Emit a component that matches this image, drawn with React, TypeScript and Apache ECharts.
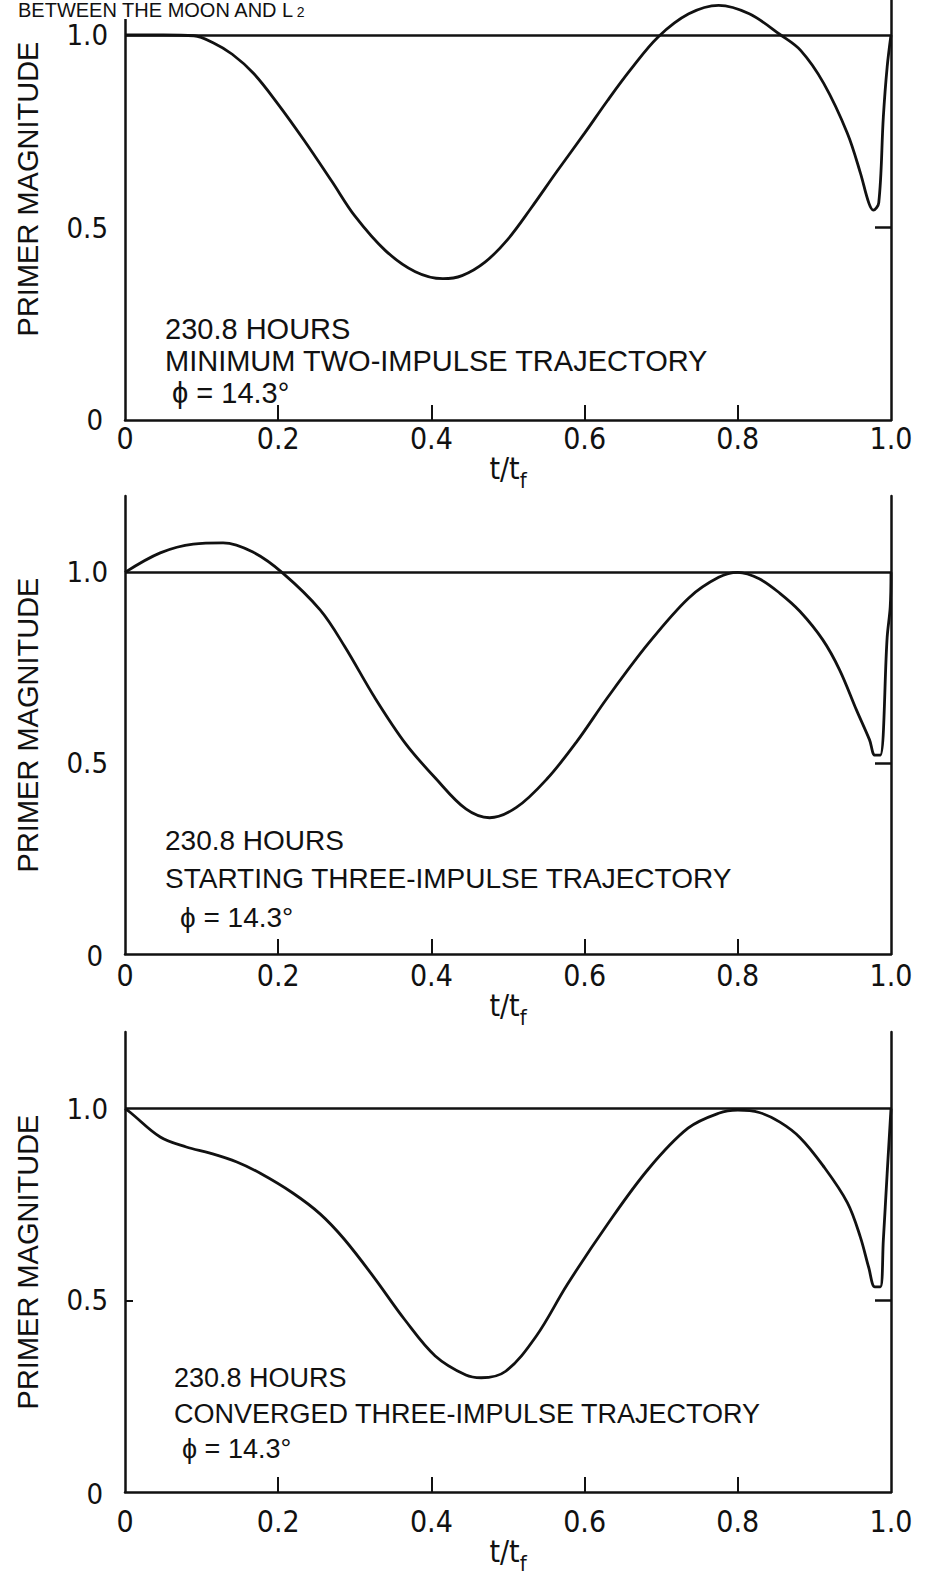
import React, { useEffect, useRef } from "react";
import * as echarts from "echarts";

// ---------- data ----------
const xTickValues = [0, 0.2, 0.4, 0.6, 0.8, 1.0];
const xInnerTicks = [0.2, 0.4, 0.6, 0.8];
const yLabelValues = [0, 0.5, 1.0];
const yInnerTicks = [0.5];
const referenceLevel = 1.0;

// Panel 1: minimum two-impulse trajectory
const p1T = [0, 0.05, 0.09, 0.115, 0.14, 0.168, 0.2, 0.234, 0.27, 0.3, 0.34, 0.379, 0.415, 0.44, 0.47, 0.5, 0.53, 0.564, 0.6, 0.63, 0.66, 0.696, 0.736, 0.775, 0.815, 0.856, 0.882, 0.912, 0.943, 0.96, 0.971, 0.977, 0.984, 0.99, 0.995, 1.0];
const p1V = [1.0, 1.0, 0.998, 0.98, 0.95, 0.9, 0.82, 0.726, 0.62, 0.53, 0.44, 0.385, 0.367, 0.375, 0.41, 0.47, 0.55, 0.646, 0.745, 0.83, 0.91, 0.995, 1.055, 1.077, 1.055, 1.0, 0.96, 0.875, 0.745, 0.642, 0.564, 0.545, 0.564, 0.787, 0.917, 1.0];

// Panel 2: starting three-impulse trajectory
const p2T = [0, 0.046, 0.089, 0.128, 0.167, 0.206, 0.255, 0.287, 0.326, 0.366, 0.406, 0.445, 0.476, 0.511, 0.551, 0.59, 0.63, 0.683, 0.736, 0.775, 0.8, 0.828, 0.855, 0.881, 0.911, 0.933, 0.955, 0.972, 0.979, 0.986, 0.995, 0.999, 1.0];
const p2V = [1.0, 1.051, 1.074, 1.077, 1.053, 0.998, 0.901, 0.805, 0.672, 0.552, 0.459, 0.38, 0.357, 0.384, 0.459, 0.557, 0.672, 0.813, 0.933, 0.987, 1.0, 0.983, 0.945, 0.898, 0.823, 0.744, 0.639, 0.561, 0.521, 0.521, 0.83, 0.91, 1.0];

// Panel 3: converged three-impulse trajectory
const p3T = [0, 0.007, 0.046, 0.08, 0.111, 0.146, 0.176, 0.219, 0.255, 0.286, 0.325, 0.365, 0.405, 0.445, 0.465, 0.497, 0.537, 0.577, 0.629, 0.683, 0.735, 0.775, 0.8, 0.828, 0.855, 0.881, 0.911, 0.943, 0.96, 0.971, 0.979, 0.986, 0.99, 0.995, 1.0];
const p3V = [1.0, 0.99, 0.926, 0.9, 0.884, 0.861, 0.832, 0.78, 0.725, 0.66, 0.56, 0.45, 0.355, 0.305, 0.298, 0.315, 0.407, 0.54, 0.696, 0.842, 0.949, 0.988, 0.996, 0.99, 0.965, 0.925, 0.852, 0.755, 0.665, 0.585, 0.535, 0.535, 0.657, 0.832, 1.0];

const notes1 = ["230.8 HOURS", "MINIMUM TWO-IMPULSE TRAJECTORY", "ϕ = 14.3°"];
const notes2 = ["230.8 HOURS", "STARTING THREE-IMPULSE TRAJECTORY", "ϕ = 14.3°"];
const notes3 = ["230.8 HOURS", "CONVERGED THREE-IMPULSE TRAJECTORY", "ϕ = 14.3°"];

const titleText = "BETWEEN THE MOON AND L";
const titleSub = "2";
const yName = "PRIMER MAGNITUDE";

// ---------- layout ----------
const OFF = 50; // chart canvas starts 50px above the page so panel 1 can extend past the top
const FONT = "'Liberation Sans', Arial, sans-serif";
const NARROW = "'DejaVu Sans Condensed', 'Liberation Sans', sans-serif";
const INK = "#111";

const panels = [
  { t: p1T, v: p1V, notes: notes1, top: -42, height: 462, xLabelMargin: 3, xNameGap: 29, zeroPad: 0, noteX: 165, noteY: [329, 361, 393], phiX: 172, noteSize: 29, leftTick: false },
  { t: p2T, v: p2V, notes: notes2, top: 496, height: 458, xLabelMargin: 6, xNameGap: 34, zeroPad: 4, noteX: 165, noteY: [840, 878, 917], phiX: 180, noteSize: 28, leftTick: false },
  { t: p3T, v: p3V, notes: notes3, top: 1032, height: 460, xLabelMargin: 14, xNameGap: 38, zeroPad: 4, noteX: 174, noteY: [1378, 1414, 1449], phiX: 182, noteSize: 27, leftTick: true },
];

function buildOption() {
  const grid: any[] = [];
  const xAxis: any[] = [];
  const yAxis: any[] = [];
  const series: any[] = [];
  const graphic: any[] = [];

  panels.forEach((p, i) => {
    grid.push({ left: 125, width: 766, top: p.top + OFF, height: p.height, containLabel: false });
    xAxis.push({
      type: "value",
      gridIndex: i,
      min: 0,
      max: 1,
      interval: 0.2,
      axisLine: { show: true, onZero: false, lineStyle: { color: INK, width: 2.5 } },
      axisTick: { show: true, inside: true, length: 15, customValues: xInnerTicks, lineStyle: { color: INK, width: 2 } },
      axisLabel: {
        show: true,
        customValues: xTickValues,
        margin: p.xLabelMargin,
        color: INK,
        fontFamily: NARROW,
        fontSize: 30,
        formatter: (val: number) => (val === 0 ? "0" : val.toFixed(1)),
      },
      splitLine: { show: false },
      name: "{a|t/t}{b|f}",
      nameLocation: "middle",
      nameGap: p.xNameGap,
      nameTextStyle: {
        rich: {
          a: { fontSize: 30, fontFamily: NARROW, color: INK, lineHeight: 30, verticalAlign: "top" },
          b: { fontSize: 22, fontFamily: NARROW, color: INK, lineHeight: 22, padding: [16, 0, 0, 0], verticalAlign: "top" },
        },
      },
    });
    yAxis.push({
      type: "value",
      gridIndex: i,
      position: "left",
      min: 0,
      max: 1.2,
      axisLine: { show: true, onZero: false, lineStyle: { color: INK, width: 2.5 } },
      axisTick: { show: p.leftTick, inside: true, length: 8, customValues: yInnerTicks, lineStyle: { color: INK, width: 2 } },
      axisLabel: {
        show: true,
        customValues: yLabelValues,
        margin: 17,
        color: INK,
        fontFamily: NARROW,
        fontSize: 29,
        lineHeight: 22,
        formatter: (val: number) => (val === 0 ? "{z|0}" : val.toFixed(1)),
        rich: { z: { fontFamily: NARROW, fontSize: 29, lineHeight: 22, color: INK, padding: [p.zeroPad, 5, 0, 0] } },
      },
      splitLine: { show: false },
      name: yName,
      nameLocation: "middle",
      nameRotate: 90,
      nameGap: 83,
      nameTextStyle: { fontSize: 29, fontFamily: FONT, color: INK },
    });
    yAxis.push({
      type: "value",
      gridIndex: i,
      position: "right",
      min: 0,
      max: 1.2,
      axisLine: { show: true, onZero: false, lineStyle: { color: INK, width: 2.5 } },
      axisTick: { show: true, inside: true, length: 16, customValues: yInnerTicks, lineStyle: { color: INK, width: 2.5 } },
      axisLabel: { show: false },
      splitLine: { show: false },
    });
    series.push({
      type: "line",
      xAxisIndex: i,
      yAxisIndex: i * 2,
      data: p.t.map((t, k) => [t, p.v[k]]),
      symbol: "none",
      smooth: 0.35,
      clip: false,
      lineStyle: { color: INK, width: 2.8 },
      markLine: {
        silent: true,
        symbol: ["none", "none"],
        label: { show: false },
        lineStyle: { color: INK, width: 2.5, type: "solid" },
        data: [{ yAxis: referenceLevel }],
      },
    });
    p.notes.forEach((line, k) => {
      graphic.push({
        type: "text",
        x: k === 2 ? p.phiX : p.noteX,
        y: p.noteY[k] + OFF,
        z: 50,
        style: {
          text: line,
          fill: INK,
          font: `${p.noteSize}px ${FONT}`,
          align: "left",
          verticalAlign: "middle",
          textAlign: "left",
          textVerticalAlign: "middle",
        },
      });
    });
  });

  graphic.push({
    type: "text",
    x: 16,
    y: OFF,
    z: 100,
    style: {
      text: `{a|${titleText}}{s|${titleSub}}`,
      backgroundColor: "#fff",
      padding: [0, 4, 0, 2],
      rich: {
        a: { fontSize: 20, lineHeight: 19, fontFamily: FONT, fill: INK, verticalAlign: "top" },
        s: { fontSize: 14, lineHeight: 14, fontFamily: FONT, fill: INK, padding: [5, 0, 0, 2], verticalAlign: "top" },
      },
    },
  });

  return {
    animation: false,
    backgroundColor: "#fff",
    grid,
    xAxis,
    yAxis,
    series,
    graphic,
  };
}

export default function App() {
  const ref = useRef<HTMLDivElement>(null);
  useEffect(() => {
    if (!ref.current) return;
    const chart = echarts.init(ref.current, undefined, { renderer: "svg" });
    chart.setOption(buildOption() as any);
    return () => chart.dispose();
  }, []);
  return (
    <div
      ref={ref}
      style={{ position: "absolute", left: 0, top: -OFF, width: 927, height: 1586 + OFF, background: "#fff" }}
    />
  );
}
